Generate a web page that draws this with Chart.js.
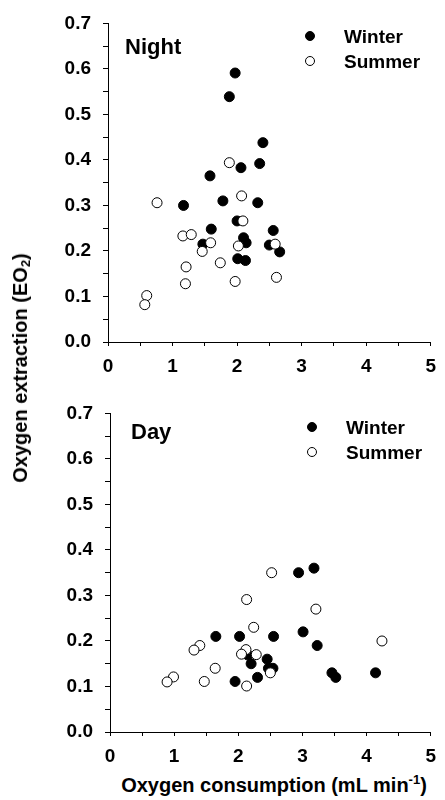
<!DOCTYPE html>
<html>
<head>
<meta charset="utf-8">
<script src="https://cdn.jsdelivr.net/npm/chart.js@4/dist/chart.umd.min.js"></script>
<style>
  html, body { margin: 0; padding: 0; background: #fff; }
  #wrap { position: relative; width: 445px; height: 800px; overflow: hidden; font-family: "Liberation Sans", Arial, sans-serif; font-weight: bold; color: #000; }
  canvas { position: absolute; left: 0; }
  .txt { position: absolute; white-space: nowrap; line-height: 1; transform: translateY(-50%); }
  .panel { font-size: 22px; }
  .leg { font-size: 19px; }
  .mk { position: absolute; width: 10px; height: 10px; border-radius: 50%; box-sizing: border-box; border: 1px solid #000; transform: translate(-50%, -50%); }
  .mk.f { background: #000; }
  .mk.o { background: #fff; }
  #ytitle { position: absolute; left: 21px; top: 368px; font-size: 20px; white-space: nowrap; transform: translate(-50%, -50%) rotate(-90deg); }
  #xtitle { position: absolute; left: 274px; top: 784px; font-size: 20px; white-space: nowrap; transform: translate(-50%, -50%); }
  sub, sup { font-size: 13px; }
  sub { vertical-align: -3px; }
  sup { vertical-align: 8px; }
</style>
</head>
<body>
<div id="wrap">
  <canvas id="night" width="445" height="380" style="top:0px;width:445px;height:380px"></canvas>
  <canvas id="day" width="445" height="380" style="top:390px;width:445px;height:380px"></canvas>

  <div class="txt panel" style="left:125px;top:47px">Night</div>
  <div class="mk f" style="left:310px;top:36px"></div>
  <div class="txt leg" style="left:344px;top:36px">Winter</div>
  <div class="mk o" style="left:310px;top:61px"></div>
  <div class="txt leg" style="left:344px;top:61px">Summer</div>

  <div class="txt panel" style="left:131px;top:432px">Day</div>
  <div class="mk f" style="left:312px;top:427px"></div>
  <div class="txt leg" style="left:346px;top:427px">Winter</div>
  <div class="mk o" style="left:312px;top:452px"></div>
  <div class="txt leg" style="left:346px;top:452px">Summer</div>

  <div id="ytitle">Oxygen extraction (EO<sub>2</sub>)</div>
  <div id="xtitle">Oxygen consumption (mL min<sup>-1</sup>)</div>
</div>
<script>
// ---- Data ----
const nightWinterX = [1.97, 1.88, 2.40, 2.06, 2.35, 1.58, 1.17, 1.78, 2.32, 2.00, 1.60, 1.47, 2.10, 2.14, 2.01, 2.13, 2.56, 2.50, 2.66];
const nightWinterY = [0.591, 0.539, 0.438, 0.383, 0.392, 0.365, 0.300, 0.310, 0.306, 0.266, 0.248, 0.215, 0.229, 0.218, 0.183, 0.179, 0.245, 0.213, 0.198];
const nightSummerX = [1.88, 0.76, 2.07, 2.09, 1.16, 1.29, 1.59, 1.46, 2.02, 1.74, 1.21, 1.20, 1.97, 0.60, 0.57, 2.59, 2.61];
const nightSummerY = [0.394, 0.306, 0.321, 0.266, 0.233, 0.236, 0.218, 0.199, 0.211, 0.174, 0.165, 0.128, 0.133, 0.102, 0.082, 0.215, 0.142];

const dayWinterX = [1.65, 2.02, 2.15, 2.20, 2.30, 1.95, 2.55, 3.01, 3.23, 2.45, 2.47, 2.54, 3.46, 3.52, 4.14, 2.94, 3.18];
const dayWinterY = [0.210, 0.210, 0.169, 0.150, 0.120, 0.111, 0.210, 0.220, 0.190, 0.160, 0.140, 0.140, 0.130, 0.120, 0.130, 0.350, 0.360];
const daySummerX = [2.13, 2.24, 1.40, 1.31, 2.12, 2.05, 2.28, 1.64, 0.99, 0.89, 1.47, 2.13, 3.21, 4.24, 2.50, 2.52];
const daySummerY = [0.291, 0.230, 0.190, 0.180, 0.181, 0.171, 0.170, 0.140, 0.121, 0.110, 0.111, 0.101, 0.270, 0.200, 0.130, 0.350];

const xTicks = [0, 1, 2, 3, 4, 5];
const yTicks = [0.0, 0.1, 0.2, 0.3, 0.4, 0.5, 0.6, 0.7];

function pts(xs, ys) { return xs.map((x, i) => ({ x: x, y: ys[i] })); }

const tickFont = { family: '"Liberation Sans", Arial, sans-serif', size: 19, weight: 'bold' };

function makeChart(id, wX, wY, sX, sY, yAxisWidth, padRight, padTop) {
  return new Chart(document.getElementById(id), {
    type: 'scatter',
    data: {
      datasets: [
        { label: 'Winter', data: pts(wX, wY), pointRadius: 5, pointHoverRadius: 5,
          backgroundColor: '#000', borderColor: '#000', borderWidth: 1, order: 2 },
        { label: 'Summer', data: pts(sX, sY), pointRadius: 5, pointHoverRadius: 5,
          backgroundColor: '#fff', borderColor: '#000', borderWidth: 1, order: 1 }
      ]
    },
    options: {
      responsive: false,
      animation: false,
      events: [],
      layout: { padding: { top: padTop, right: padRight, bottom: 0, left: 0 } },
      plugins: { legend: { display: false }, tooltip: { enabled: false }, title: { display: false } },
      scales: {
        x: {
          type: 'linear', min: 0, max: 5,
          afterFit: s => { s.height = 38; },
          border: { display: true, color: '#000', width: 1 },
          grid: { display: true, drawOnChartArea: false, drawTicks: true, tickLength: 4, color: '#000', tickColor: '#000' },
          ticks: {
            stepSize: 0.5, autoSkip: false, maxRotation: 0, color: '#000', font: tickFont, padding: 9,
            callback: v => xTicks.includes(v) ? String(v) : ''
          }
        },
        y: {
          type: 'linear', min: 0, max: 0.7,
          afterFit: s => { s.width = yAxisWidth; },
          border: { display: true, color: '#000', width: 1 },
          grid: { display: true, drawOnChartArea: false, drawTicks: true, tickLength: 5, color: '#000', tickColor: '#000' },
          ticks: {
            stepSize: 0.05, autoSkip: false, color: '#000', font: tickFont, padding: 12,
            callback: v => {
              const t = yTicks.find(k => Math.abs(k - v) < 1e-6);
              return t === undefined ? '' : t.toFixed(1);
            }
          }
        }
      }
    }
  });
}

makeChart('night', nightWinterX, nightWinterY, nightSummerX, nightSummerY, 108, 8, 13);
makeChart('day', dayWinterX, dayWinterY, daySummerX, daySummerY, 110, 5, 10);
</script>
</body>
</html>
